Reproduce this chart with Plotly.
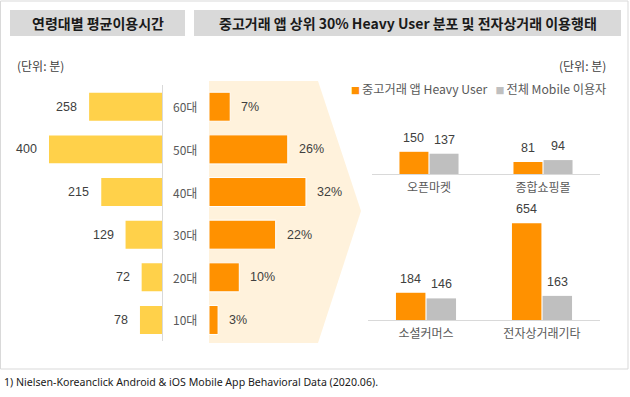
import plotly.graph_objects as go

W, H = 630, 397

# ---------------- data ----------------
ages = ['10대', '20대', '30대', '40대', '50대', '60대']
avg_minutes = [78, 72, 129, 215, 400, 258]
heavy_share = [3, 10, 22, 32, 26, 7]

platform_top = ['오픈마켓', '종합쇼핑몰']
heavy_top = [150, 81]
all_top = [137, 94]

platform_bottom = ['소셜커머스', '전자상거래기타']
heavy_bottom = [184, 654]
all_bottom = [146, 163]

series_names = ['중고거래 앱 Heavy User', '전체 Mobile 이용자']

title_left = '연령대별 평균이용시간'
title_right = '중고거래 앱 상위 30% Heavy User 분포 및 전자상거래 이용행태'
unit_label = '(단위: 분)'
footnote = '1) Nielsen-Koreanclick Android &amp; iOS Mobile App Behavioral Data (2020.06).'

# ---------------- style ----------------
YELLOW = '#FFD14A'
ORANGE = '#FF9100'
GRAY = '#BFBFBF'
CREAM = '#FFF2DC'
LINE = '#D9D9D9'
TXT = '#404040'
LBL = '#595959'
NUM_FONT = 'Liberation Sans, Arial, Noto Sans CJK KR, sans-serif'
KR_FONT = 'Noto Sans CJK KR, sans-serif'


def px(p):
    return p / W


def py(p):
    return 1 - p / H


fig = go.Figure()

# left: average usage time (reversed horizontal bars)
fig.add_trace(go.Bar(
    x=avg_minutes, y=ages, orientation='h', xaxis='x', yaxis='y',
    width=0.656, marker=dict(color=YELLOW, line=dict(width=0)),
    hoverinfo='x+y'))

# middle: heavy user share by age
fig.add_trace(go.Bar(
    x=heavy_share, y=ages, orientation='h', xaxis='x2', yaxis='y2',
    width=0.68, marker=dict(color=ORANGE, line=dict(color='white', width=1)),
    hoverinfo='x+y'))

BW = 0.254
OFF_A = -0.259
OFF_B = 0.005

# right top
fig.add_trace(go.Bar(x=platform_top, y=heavy_top, xaxis='x3', yaxis='y3',
                     width=BW, offset=OFF_A, name=series_names[0],
                     marker=dict(color=ORANGE, line=dict(width=0))))
fig.add_trace(go.Bar(x=platform_top, y=all_top, xaxis='x3', yaxis='y3',
                     width=BW, offset=OFF_B, name=series_names[1],
                     marker=dict(color=GRAY, line=dict(width=0))))
# right bottom
fig.add_trace(go.Bar(x=platform_bottom, y=heavy_bottom, xaxis='x4', yaxis='y4',
                     width=BW, offset=OFF_A, name=series_names[0],
                     marker=dict(color=ORANGE, line=dict(width=0))))
fig.add_trace(go.Bar(x=platform_bottom, y=all_bottom, xaxis='x4', yaxis='y4',
                     width=BW, offset=OFF_B, name=series_names[1],
                     marker=dict(color=GRAY, line=dict(width=0))))

age_dom = [py(341.3), py(85.4)]

annotations = []

# left value labels
for a, v in zip(ages, avg_minutes):
    annotations.append(dict(x=v, y=a, xref='x', yref='y', text=str(v),
                            showarrow=False, xanchor='right', yanchor='middle', xshift=-10,
                            font=dict(family=NUM_FONT, size=12.5, color=TXT)))
# middle value labels
for a, v in zip(ages, heavy_share):
    annotations.append(dict(x=v, y=a, xref='x2', yref='y2', text=f'{v}%',
                            showarrow=False, xanchor='left', yanchor='middle', xshift=9,
                            font=dict(family=NUM_FONT, size=12.5, color=TXT)))
# age labels
for a in ages:
    annotations.append(dict(x=px(185), y=a, xref='paper', yref='y', text=a,
                            showarrow=False, xanchor='center', yanchor='middle',
                            font=dict(family=KR_FONT, size=12, color=LBL)))

# right value labels
for cats, a_vals, b_vals, xr, yr in [
        (platform_top, heavy_top, all_top, 'x3', 'y3'),
        (platform_bottom, heavy_bottom, all_bottom, 'x4', 'y4')]:
    for i in range(len(cats)):
        for vals, off in ((a_vals, OFF_A), (b_vals, OFF_B)):
            annotations.append(dict(x=i + off + BW / 2, y=vals[i], xref=xr, yref=yr,
                                    text=str(vals[i]), showarrow=False,
                                    xanchor='center', yanchor='bottom', yshift=5,
                                    font=dict(family=NUM_FONT, size=12.5, color=TXT)))


def paper_text(x, y, text, size, color, xanchor='center', family=KR_FONT):
    annotations.append(dict(x=px(x), y=py(y), xref='paper', yref='paper', text=text,
                            showarrow=False, xanchor=xanchor, yanchor='middle',
                            font=dict(family=family, size=size, color=color)))


# titles
paper_text(97.5, 23, f'<b>{title_left}</b>', 14, '#1A1A1A')
paper_text(407.5, 23, f'<b>{title_right}</b>', 14, '#1A1A1A')
# units
paper_text(15, 65, unit_label, 12, TXT, xanchor='left')
paper_text(608, 65, unit_label, 12, TXT, xanchor='right')
# legend
legend_txt = (f'<span style="color:{ORANGE};font-size:9px">■ </span>{series_names[0]}'
              f'   <span style="color:{GRAY};font-size:9px">■ </span>{series_names[1]}')
paper_text(608, 89, legend_txt, 12.2, LBL, xanchor='right')
# footnote
paper_text(2, 382, footnote, 10.6, '#1A1A1A', xanchor='left', family='Noto Sans, sans-serif')

shapes = [
    dict(type='rect', xref='paper', yref='paper', x0=px(0.5), x1=px(628), y0=py(369), y1=py(1),
         line=dict(color=LINE, width=1), fillcolor='rgba(0,0,0,0)', layer='below'),
    dict(type='rect', xref='paper', yref='paper', x0=px(10), x1=px(185), y0=py(36), y1=py(10),
         line=dict(width=0), fillcolor='#D9D9D9', layer='below'),
    dict(type='rect', xref='paper', yref='paper', x0=px(194), x1=px(621), y0=py(36), y1=py(10),
         line=dict(width=0), fillcolor='#D9D9D9', layer='below'),
    dict(type='path', xref='paper', yref='paper',
         path=(f'M {px(209)},{py(81)} L {px(318)},{py(81)} L {px(361)},{py(211)} '
               f'L {px(318)},{py(343)} L {px(209)},{py(343)} Z'),
         line=dict(width=0), fillcolor=CREAM, layer='below'),
]

fig.update_layout(
    width=W, height=H, margin=dict(l=0, r=0, t=0, b=0),
    paper_bgcolor='white', plot_bgcolor='rgba(0,0,0,0)',
    showlegend=False, barmode='overlay',
    annotations=annotations, shapes=shapes,
    xaxis=dict(domain=[0, px(162)], range=[162 / 0.2825, 0], visible=False, fixedrange=True),
    yaxis=dict(domain=age_dom, type='category', range=[-0.5, 5.5], anchor='x', side='right',
               showline=True, linecolor=LINE, linewidth=1, showticklabels=False,
               ticks='', showgrid=False, zeroline=False),
    xaxis2=dict(domain=[px(209), px(360)], range=[0, 151 / 3.03], visible=False, anchor='y2'),
    yaxis2=dict(domain=age_dom, type='category', range=[-0.5, 5.5], visible=False, anchor='x2'),
    xaxis3=dict(domain=[px(372), px(600)], type='category', range=[-0.5, 1.5], anchor='y3',
                showline=True, linecolor=LINE, linewidth=1, ticks='', showgrid=False,
                ticklabelstandoff=3,
                tickfont=dict(family=KR_FONT, size=12, color=LBL)),
    yaxis3=dict(domain=[py(174), py(95)], range=[0, 79 / 0.148], visible=False, anchor='x3'),
    xaxis4=dict(domain=[px(368), px(600)], type='category', range=[-0.5, 1.5], anchor='y4',
                showline=True, linecolor=LINE, linewidth=1, ticks='', showgrid=False,
                ticklabelstandoff=3,
                tickfont=dict(family=KR_FONT, size=12, color=LBL)),
    yaxis4=dict(domain=[py(320), py(200)], range=[0, 120 / 0.148], visible=False, anchor='x4'),
)

fig.write_html('out.html', config={'displayModeBar': False},
               post_script="document.body.style.margin='0';document.body.style.overflow='hidden';")
